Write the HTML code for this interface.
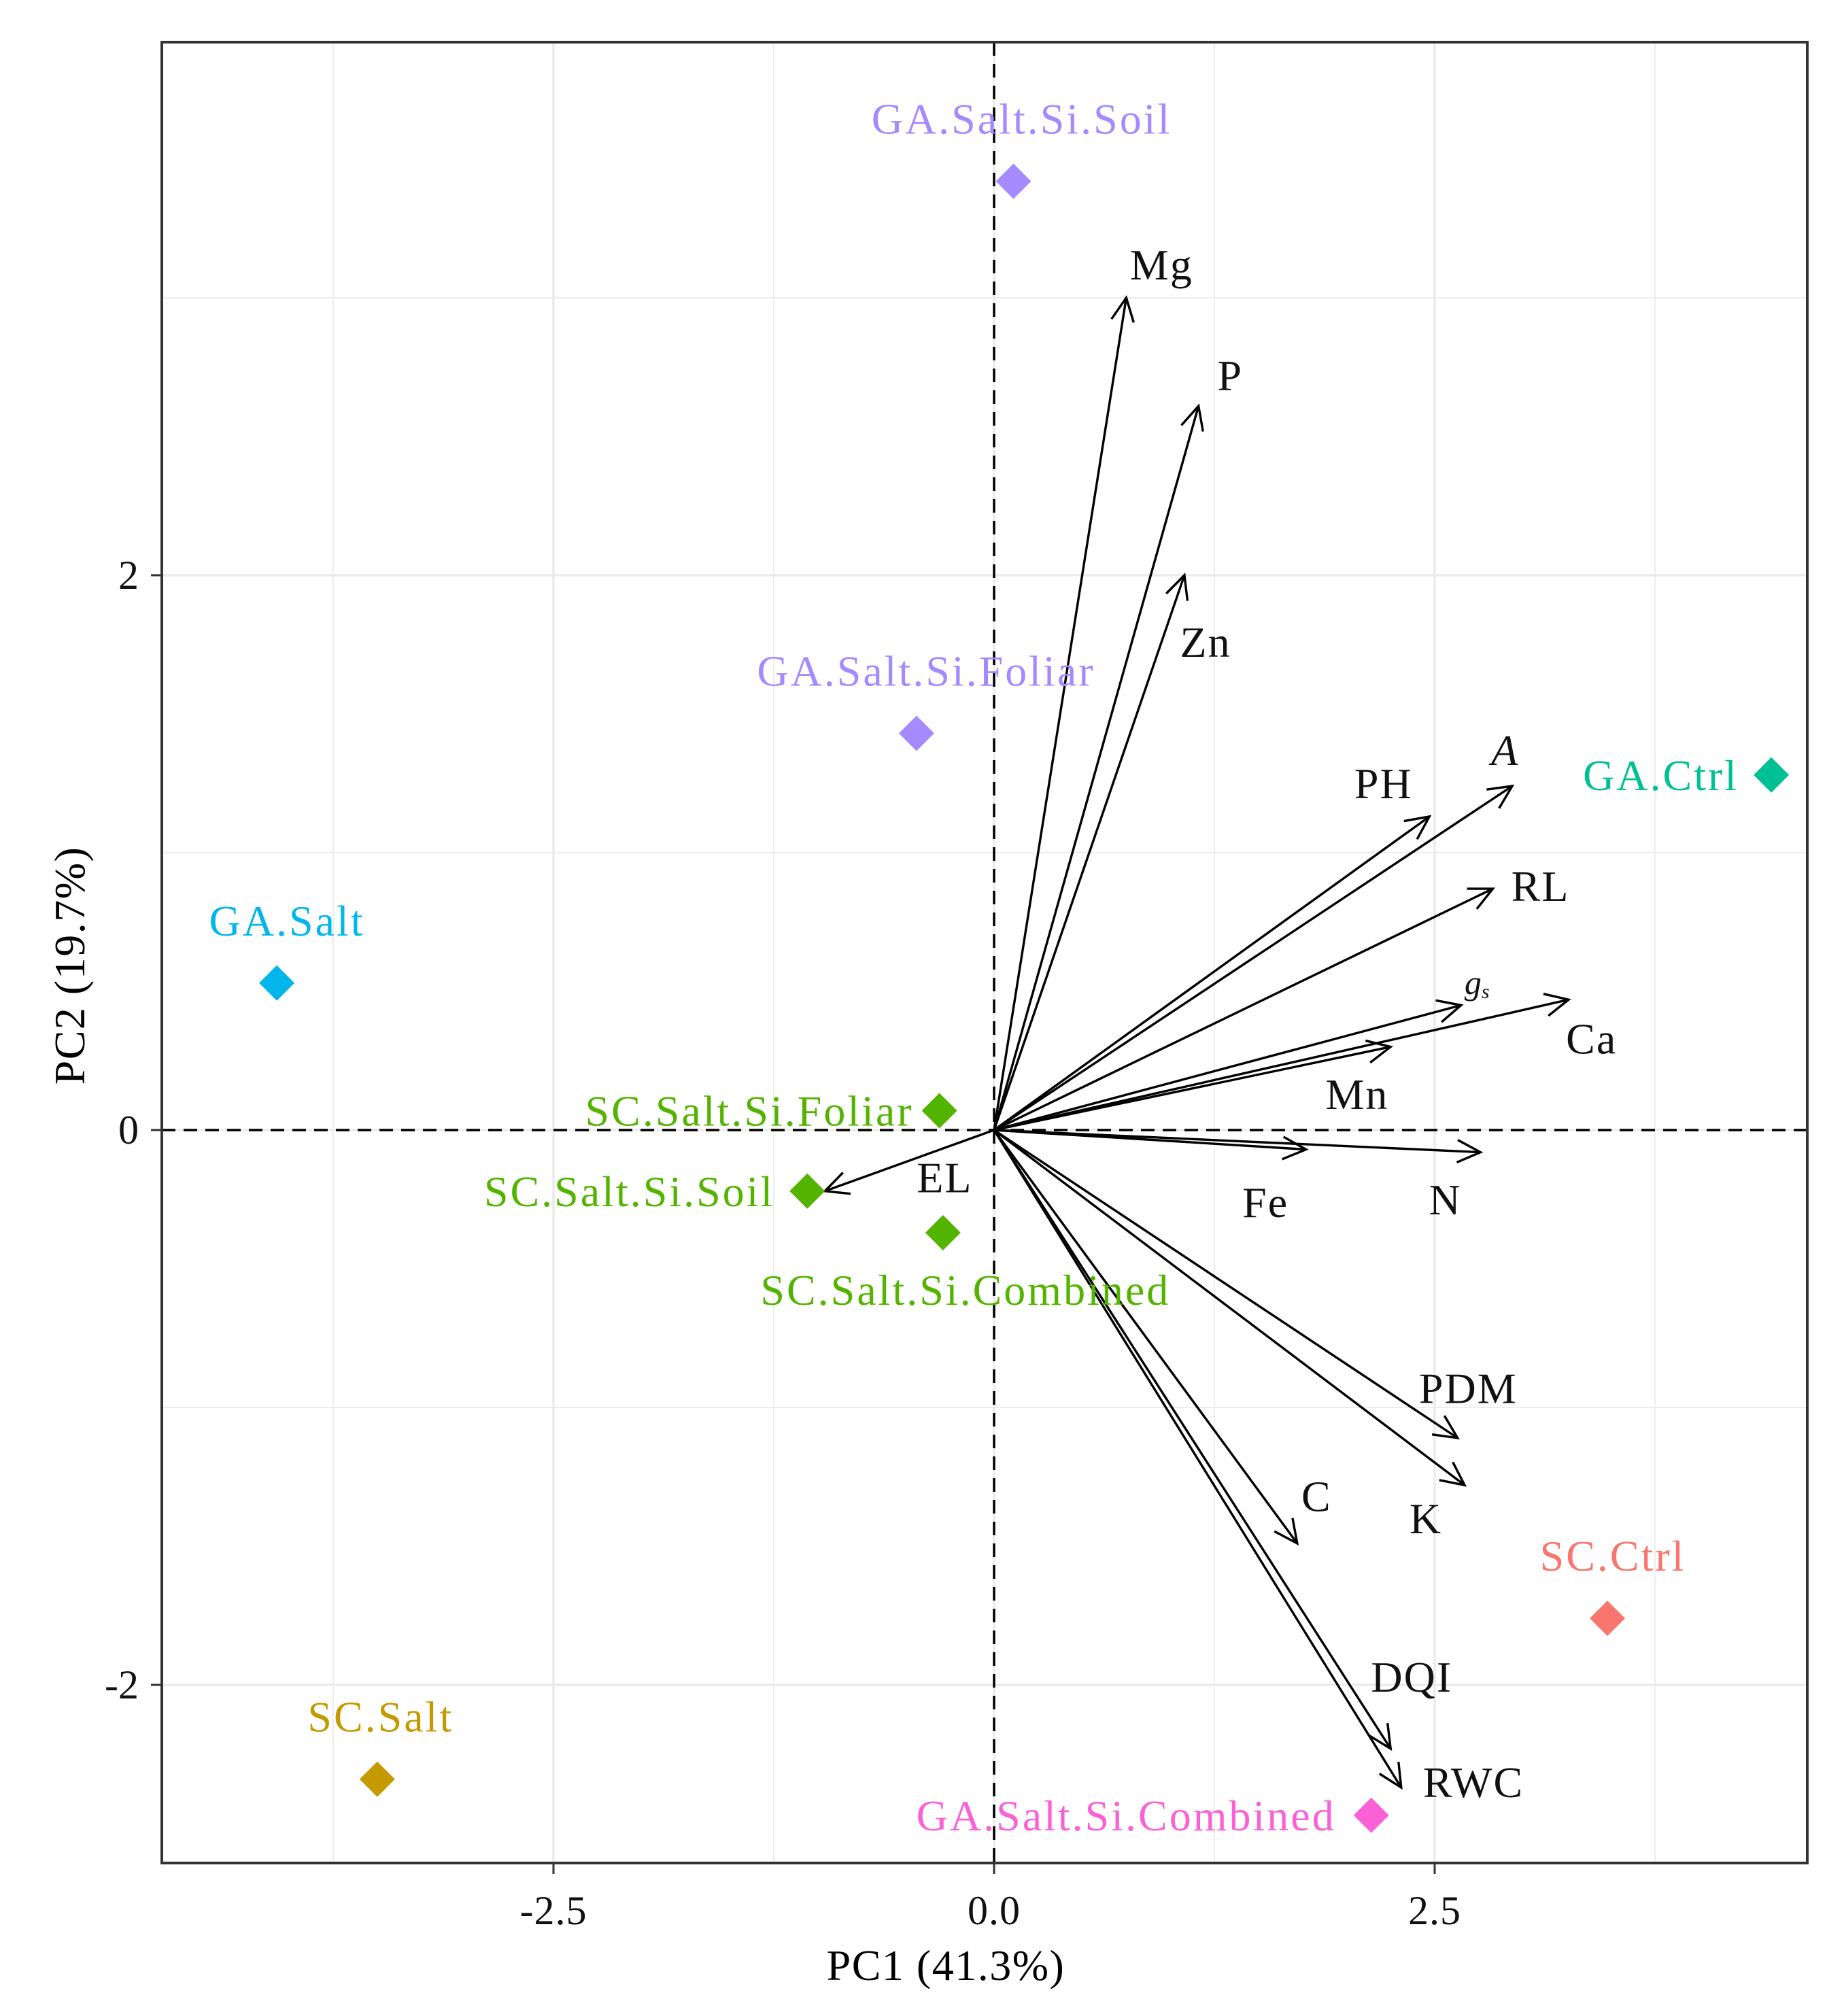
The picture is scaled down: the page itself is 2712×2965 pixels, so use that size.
<!DOCTYPE html>
<html><head><meta charset="utf-8"><style>
html,body{margin:0;padding:0;background:#fff;}
svg{display:block;font-family:"Liberation Serif","DejaVu Serif",serif;}
</style></head><body>
<svg id="chart" width="2712" height="2965" viewBox="0 0 2712 2965" xmlns="http://www.w3.org/2000/svg">
<defs><clipPath id="panel"><rect x="238" y="62" width="2420" height="2678"/></clipPath></defs>
<rect x="0" y="0" width="2712" height="2965" fill="#fff"/>
<g id="grid" clip-path="url(#panel)"></g>
<g id="refs"></g>
<g id="arrows"></g>
<g id="points"></g>
<g id="frame"></g>
<text x="1391" y="2912" font-size="64" letter-spacing="1.5" text-anchor="middle">PC1 (41.3%)</text>
<text x="0" y="0" font-size="64" letter-spacing="1.5" text-anchor="middle" transform="translate(124,1420) rotate(-90)">PC2 (19.7%)</text>
</svg>
<script>
// sample scores
const sampleNames = ["GA.Salt.Si.Soil","GA.Salt.Si.Foliar","GA.Ctrl","GA.Salt","SC.Salt.Si.Foliar","SC.Salt.Si.Soil","SC.Salt.Si.Combined","SC.Ctrl","SC.Salt","GA.Salt.Si.Combined"];
const sampleX = [0.11,-0.44,4.41,-4.07,-0.31,-1.06,-0.29,3.48,-3.50,2.14];
const sampleY = [3.42,1.43,1.28,0.53,0.07,-0.22,-0.37,-1.76,-2.34,-2.47];
const sampleColors = ["#A58AFF","#A58AFF","#00C094","#00B6EB","#53B400","#53B400","#53B400","#F8766D","#C49A00","#FB61D7"];
// variable loadings (arrow tips)
const varNames = ["Mg","P","Zn","A","PH","RL","gs","Ca","Mn","Fe","N","EL","PDM","K","C","DQI","RWC"];
const varX = [0.75,1.16,1.08,2.94,2.47,2.83,2.65,3.26,2.25,1.77,2.76,-0.96,2.63,2.67,1.72,2.25,2.31];
const varY = [3.00,2.61,2.00,1.24,1.13,0.87,0.45,0.47,0.30,-0.07,-0.08,-0.22,-1.11,-1.28,-1.49,-2.23,-2.37];
const varLabelX = [0.95,1.34,1.20,2.90,2.21,3.10,2.74,3.39,2.06,1.54,2.56,-0.28,2.69,2.45,1.83,2.37,2.72];
const varLabelY = [3.12,2.72,1.76,1.37,1.25,0.88,0.53,0.33,0.13,-0.26,-0.25,-0.17,-0.93,-1.40,-1.32,-1.97,-2.35];
const xTicks = [-2.5,0,2.5];
const xTickLabels = ["-2.5","0.0","2.5"];
const yTicks = [-2,0,2];
const yTickLabels = ["-2","0","2"];
const xMinor = [-3.75,-1.25,1.25,3.75];
const yMinor = [-3,-1,1,3];

const L=238,R=2658,T=62,B=2740,X0=1462,Y0=1662,UX=259.2,UY=408;
const sx=v=>X0+v*UX, sy=v=>Y0-v*UY;
const NS="http://www.w3.org/2000/svg";
function mk(tag,attrs,parent,text){const e=document.createElementNS(NS,tag);for(const k in attrs)e.setAttribute(k,attrs[k]);if(text!==undefined)e.textContent=text;parent.appendChild(e);return e;}
const grid=document.getElementById('grid'),refs=document.getElementById('refs'),arrows=document.getElementById('arrows'),points=document.getElementById('points'),frame=document.getElementById('frame');

xMinor.forEach(v=>{const e=mk('line',{x1:sx(v),x2:sx(v),y1:T,y2:B,stroke:'#EDEDED','stroke-width':2},grid);

});
yMinor.forEach(v=>{const e=mk('line',{x1:L,x2:R,y1:sy(v),y2:sy(v),stroke:'#EDEDED','stroke-width':2},grid);

});
xTicks.forEach((v,i)=>{const e=mk('line',{x1:sx(v),x2:sx(v),y1:T,y2:B,stroke:'#EBEBEB','stroke-width':3.5},grid);


const t=mk('line',{x1:sx(v),x2:sx(v),y1:B,y2:B+16,stroke:'#333','stroke-width':3},frame);


const l=mk('text',{x:sx(v),y:2830,'font-size':60,'letter-spacing':1,'text-anchor':'middle',fill:'#111'},frame,xTickLabels[i]);

});
yTicks.forEach((v,i)=>{const e=mk('line',{x1:L,x2:R,y1:sy(v),y2:sy(v),stroke:'#EBEBEB','stroke-width':3.5},grid);


const t=mk('line',{x1:L-16,x2:L,y1:sy(v),y2:sy(v),stroke:'#333','stroke-width':3},frame);


const l=mk('text',{x:204,y:sy(v)+20,'font-size':60,'text-anchor':'end',fill:'#111'},frame,yTickLabels[i]);

});

const hz=mk('line',{x1:L,x2:R,y1:sy(0),y2:sy(0),stroke:'#000','stroke-width':3.5,'stroke-dasharray':'20 12'},refs);


const vz=mk('line',{x1:sx(0),x2:sx(0),y1:T,y2:B,stroke:'#000','stroke-width':3.5,'stroke-dasharray':'20 12'},refs);



varNames.forEach((n,i)=>{
  const x1=sx(0),y1=sy(0),x2=sx(varX[i]),y2=sy(varY[i]);
  const g=mk('g',{},arrows);
  
  
  mk('line',{x1,y1,x2,y2,stroke:'#000','stroke-width':3.4},g);
  const a=Math.atan2(y2-y1,x2-x1),h=38,s=0.45;
  const p1=[x2-h*Math.cos(a-s),y2-h*Math.sin(a-s)],p2=[x2-h*Math.cos(a+s),y2-h*Math.sin(a+s)];
  mk('polyline',{points:`${p1[0]},${p1[1]} ${x2},${y2} ${p2[0]},${p2[1]}`,fill:'none',stroke:'#000','stroke-width':3.4},g);
  const lx=sx(varLabelX[i]),ly=sy(varLabelY[i])+22;
  let t;
  if(n==='gs'){t=mk('text',{x:lx,y:ly-6,'font-size':50,'text-anchor':'middle','font-style':'italic',fill:'#111'},g);
    mk('tspan',{},t,'g');mk('tspan',{'font-size':30,dy:6},t,'s');}
  else t=mk('text',{x:lx,y:ly,'font-size':64,'letter-spacing':2,'text-anchor':'middle','font-style':n==='A'?'italic':'normal',fill:'#111'},g,n);
  
  
});

// label placement: [anchor, dx, dy] offsets in px relative to point
const labelPlacement={"GA.Salt.Si.Soil":["middle",12,-70],"GA.Salt.Si.Foliar":["middle",14,-70],"GA.Ctrl":["end",-48,22],"GA.Salt":["middle",15,-70],
"SC.Salt.Si.Foliar":["end",-38,22],"SC.Salt.Si.Soil":["end",-48,22],"SC.Salt.Si.Combined":["middle",33,106],"SC.Ctrl":["middle",8,-70],
"SC.Salt":["middle",5,-70],"GA.Salt.Si.Combined":["end",-52,22]};
sampleNames.forEach((n,i)=>{
  const cx=sx(sampleX[i]),cy=sy(sampleY[i]),r=26;
  const d=mk('polygon',{points:`${cx},${cy-r} ${cx+r},${cy} ${cx},${cy+r} ${cx-r},${cy}`,fill:sampleColors[i]},points);
  
  
  const p=labelPlacement[n];
  const t=mk('text',{x:cx+p[1],y:cy+p[2],'font-size':64,'letter-spacing':3,'text-anchor':p[0],fill:sampleColors[i]},points,n);
  
  
});

const fr=mk('rect',{x:L,y:T,width:R-L,height:B-T,fill:'none',stroke:'#333','stroke-width':4},frame);


</script>
</body></html>
